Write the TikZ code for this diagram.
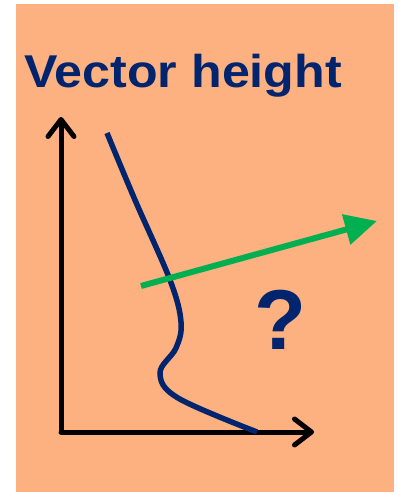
\documentclass[tikz,border=0pt]{standalone}
\usepackage{fontspec}
\setmainfont{Liberation Sans}
\usetikzlibrary{arrows.meta}
\definecolor{bgorange}{RGB}{253,177,128}
\definecolor{navy}{RGB}{0,36,110}
\definecolor{arrowgreen}{RGB}{0,176,80}
\begin{document}
\begin{tikzpicture}[x=1pt,y=-1pt,
  axis/.style={line width=5pt,black,line cap=round,-{Straight Barb[length=17pt,width=26pt,line cap=round,round]}},
  curveline/.style={line width=5.5pt,navy},
  vec/.style={line width=6pt,arrowgreen,-{Triangle[length=32pt,width=30pt]}},
  lbl/.style={text=navy,font=\bfseries\fontsize{46}{50}\selectfont,inner sep=0pt}]
\useasboundingbox (0,0) rectangle (398,492);
\fill[white] (0,0) rectangle (398,492);
\fill[bgorange] (16,4) rectangle (394,492);
\node[lbl,anchor=base west] (title) at (24,88) {\scalebox{1.09}[1]{Vector height}};
\coordinate (O) at (61,432);
\coordinate (ytip) at (61,117);
\coordinate (xtip) at (314,432);
\draw[axis] (O) -- (ytip);
\draw[axis] (O) -- (xtip);
\draw[curveline] plot[smooth,tension=0.6] coordinates {(107,133) (135,200) (170,280) (181,322) (176,348) (160,373) (178,398) (257,432)};
\coordinate (gs) at (141,286);
\coordinate (ge) at (377,221);
\draw[vec] (gs) -- (ge);
\node[text=navy,font=\bfseries\fontsize{85}{90}\selectfont,inner sep=0pt] (q) at (280,320) {?};
\end{tikzpicture}
\end{document}
